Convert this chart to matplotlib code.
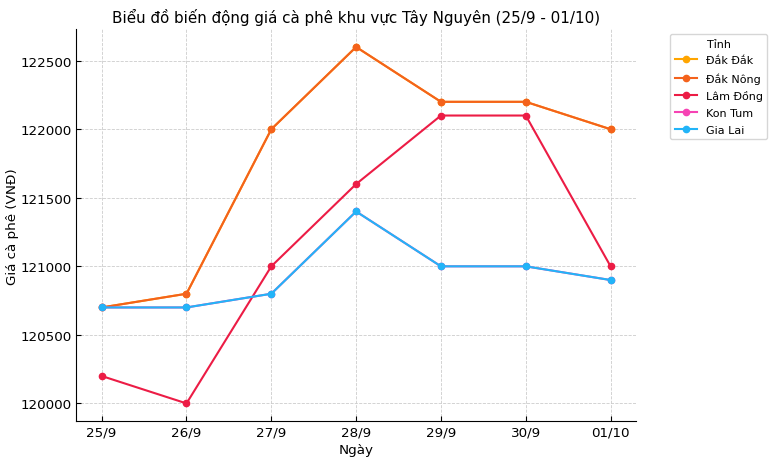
import matplotlib
matplotlib.use("Agg")
import matplotlib.pyplot as plt

ngay = ["25/9", "26/9", "27/9", "28/9", "29/9", "30/9", "01/10"]

dak_dak = [120700, 120800, 122000, 122600, 122200, 122200, 122000]
dak_nong = [120700, 120800, 122000, 122600, 122200, 122200, 122000]
lam_dong = [120200, 120000, 121000, 121600, 122100, 122100, 121000]
kon_tum = [120700, 120700, 120800, 121400, 121000, 121000, 120900]
gia_lai = [120700, 120700, 120800, 121400, 121000, 121000, 120900]

series = [
    ("Đắk Đắk", dak_dak, "#FFA500"),
    ("Đắk Nông", dak_nong, "#F4621C"),
    ("Lâm Đồng", lam_dong, "#EC1C45"),
    ("Kon Tum", kon_tum, "#F643B4"),
    ("Gia Lai", gia_lai, "#22B4F8"),
]

fig, ax = plt.subplots(figsize=(7.7, 4.64), dpi=100)
x = range(len(ngay))
for name, vals, color in series:
    ax.plot(x, vals, marker="o", markersize=4.5, linewidth=1.5, color=color, label=name)

ax.set_xticks(list(x))
ax.set_xticklabels(ngay)
ax.tick_params(labelsize=9.7, length=3.5, pad=3, direction="in")
ax.set_title("Biểu đồ biến động giá cà phê khu vực Tây Nguyên (25/9 - 01/10)", fontsize=10.9, pad=5)
ax.set_xlabel("Ngày", fontsize=9.7, labelpad=3)
ax.set_ylabel("Giá cà phê (VNĐ)", fontsize=9.7, labelpad=1.5)
ax.grid(True, linestyle="--", linewidth=0.6, color="#cccccc")
ax.spines["top"].set_visible(False)
ax.spines["right"].set_visible(False)
ax.legend(title="Tỉnh", loc="upper left", bbox_to_anchor=(1.061, 0.987), fontsize=8,
          title_fontsize=8, handlelength=2.0, labelspacing=0.6, borderaxespad=0)

fig.subplots_adjust(left=0.099, right=0.826, top=0.935, bottom=0.09)
fig.savefig("out.png")
